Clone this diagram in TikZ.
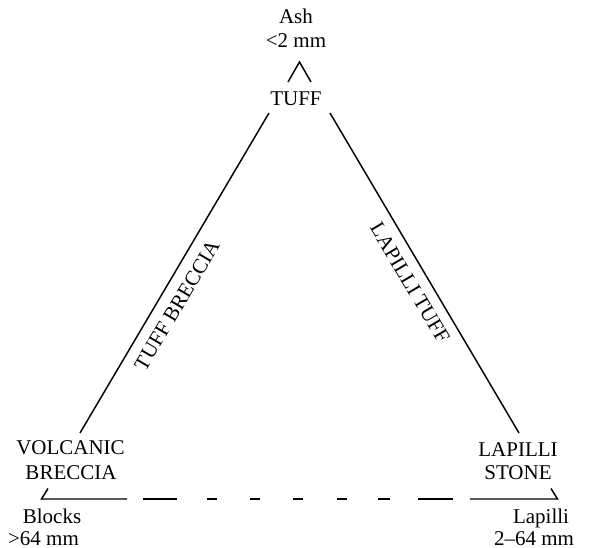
\documentclass[tikz,border=0pt]{standalone}
\usepackage{fontspec}
\setmainfont{Liberation Serif}
\begin{document}
\begin{tikzpicture}[x=0.75pt,y=-0.75pt,
  lbl/.style={inner sep=0pt,outer sep=0pt,anchor=base,font=\fontsize{15.75}{18.9}\selectfont},
  side/.style={line width=1.1pt},
  rlbl/.style={inner sep=0pt,font=\fontsize{15.75}{18.9}\selectfont}]
\useasboundingbox (0,0) rectangle (592,548);
% corners of the triangle
\coordinate (A) at (299.5,62);
\coordinate (B) at (41.5,499);
\coordinate (C) at (557.5,499);
% apex caret
\draw[side] (288,82) -- (A) -- (311,82);
% sides
\draw[side] (269,113) -- (80,433);
\draw[side] (330,113) -- (519,433);
% bottom corners and dashed base
\draw[side] (48,488.5) -- (B) -- (127,499);
\draw[side] (551,488.5) -- (C) -- (470,499);
\foreach \a/\b in {143/177,207/217,250/260,293/303,337/347,378/390,418/453}
  \draw[side] (\a,499) -- (\b,499);
% labels
\node[lbl] (ash) at (296,24) {Ash};
\node[lbl] (ashmm) at (296,48) {<2 mm};
\node[lbl] (tuff) at (296,106) {TUFF};
\node[lbl] (vol) at (70.5,455) {VOLCANIC};
\node[lbl] (brec) at (71,479) {BRECCIA};
\node[lbl] (blocks) at (52,523) {Blocks};
\node[lbl] (blmm) at (43.5,545) {>64 mm};
\node[lbl] (lap) at (518,456) {LAPILLI};
\node[lbl] (stone) at (518,479) {STONE};
\node[lbl] (lapilli) at (541,523) {Lapilli};
\node[lbl] (lapmm) at (534,545) {2--64 mm};
\node[rlbl,rotate=59.4] (tb) at (177,305) {TUFF BRECCIA};
\node[rlbl,rotate=-59.4] (lt) at (410,283) {LAPILLI TUFF};
\end{tikzpicture}
\end{document}
